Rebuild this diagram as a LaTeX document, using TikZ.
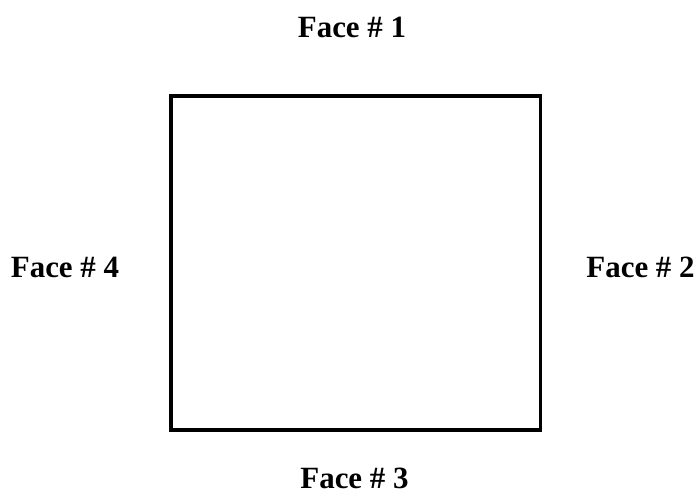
\documentclass[tikz,border=0pt]{standalone}
\usepackage{fontspec}
\setmainfont{Liberation Serif}
\begin{document}
\begin{tikzpicture}[x=0.75pt,y=-0.75pt,
  facelabel/.style={font=\fontsize{23.2}{27}\selectfont\bfseries, inner sep=0pt, anchor=base}]
\useasboundingbox (0,0) rectangle (699,495);
\node[draw, line width=2.4pt, minimum width=369.7*0.75pt, minimum height=334*0.75pt, inner sep=0pt] (box) at (355.85,263) {};
\node[facelabel] (f1) at (352,37.3) {Face \# 1};
\node[facelabel] (f2) at (640.5,277.5) {Face \# 2};
\node[facelabel] (f3) at (354.5,488.5) {Face \# 3};
\node[facelabel] (f4) at (65,277.3) {Face \# 4};
\end{tikzpicture}
\end{document}
